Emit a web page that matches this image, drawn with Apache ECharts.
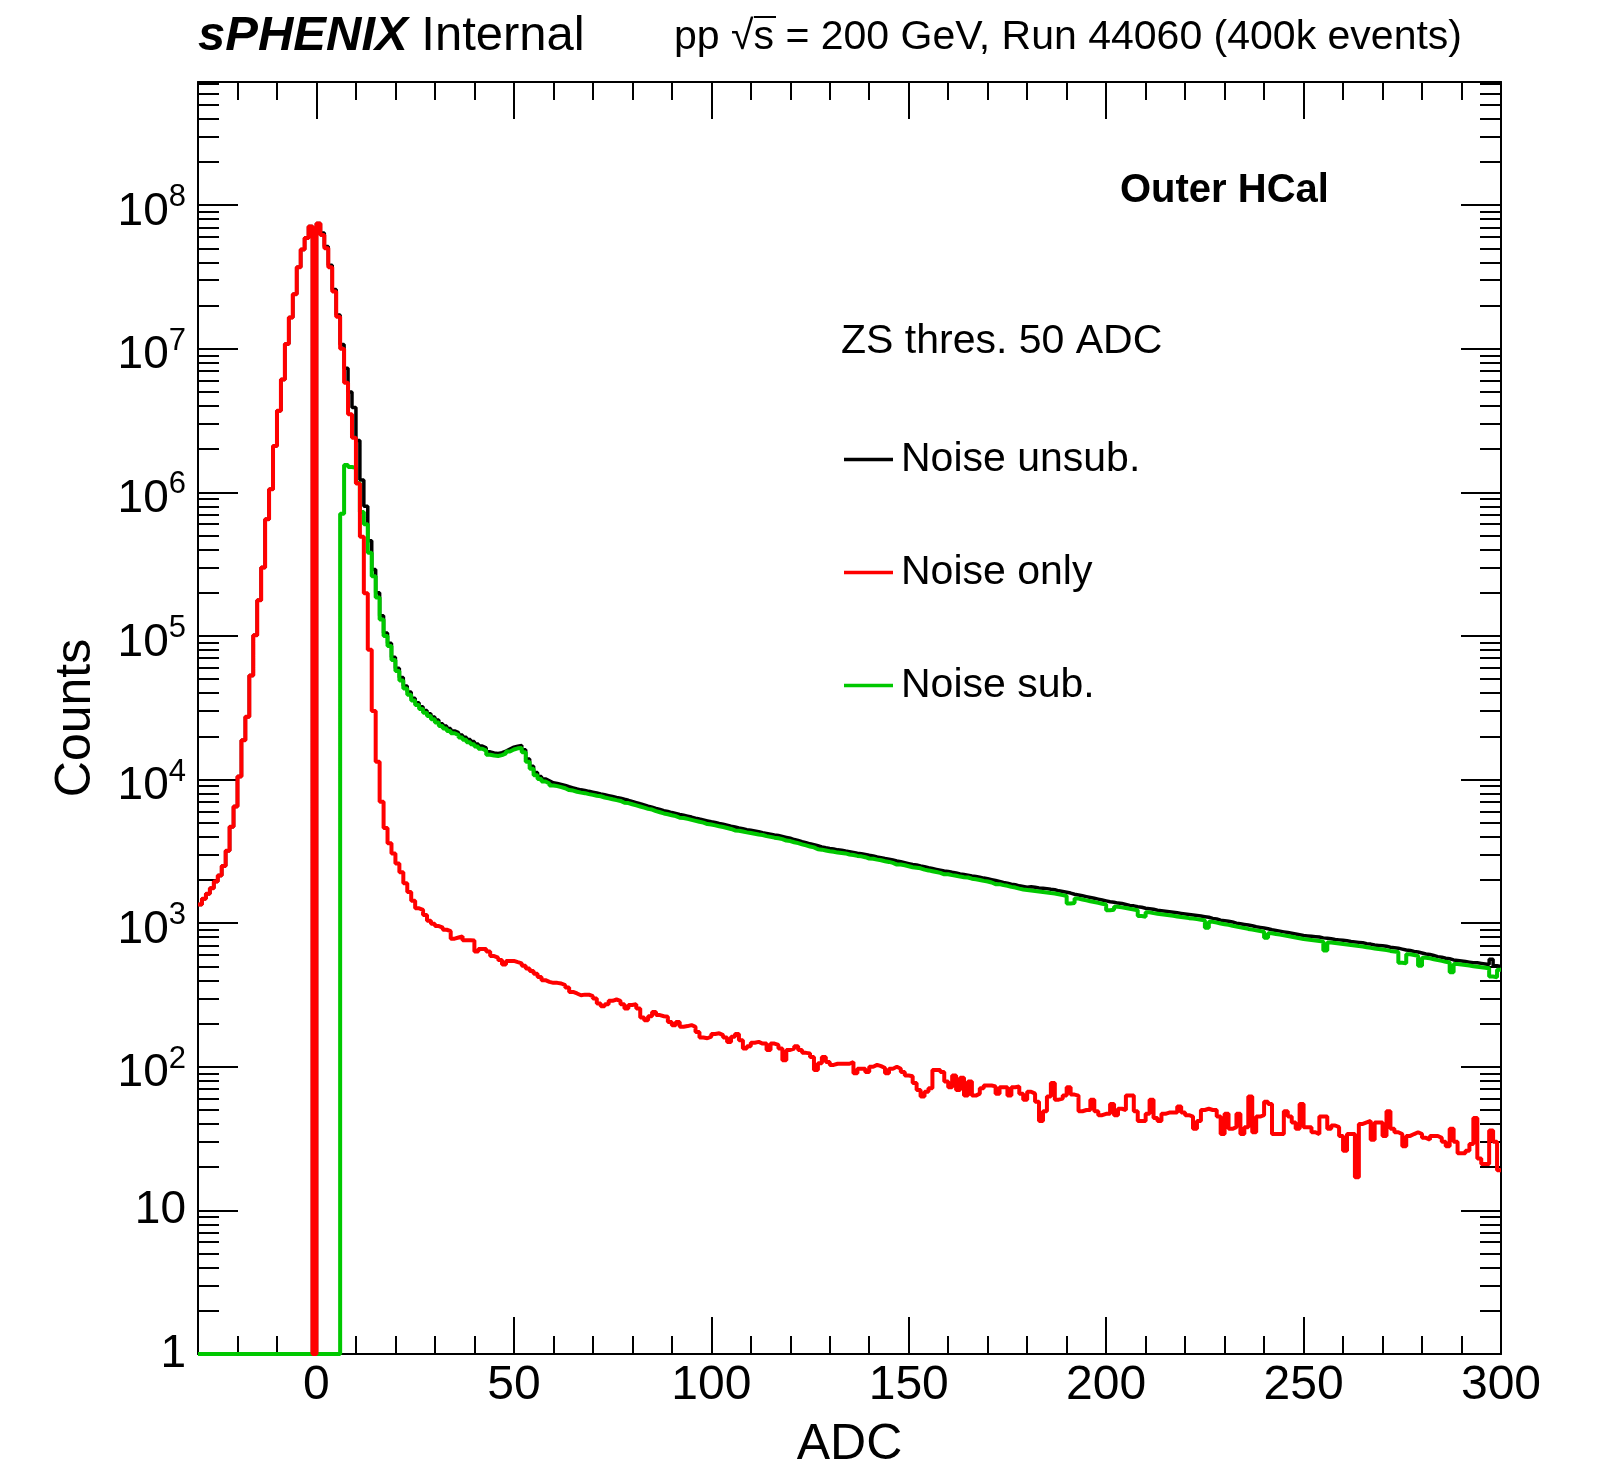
<!DOCTYPE html>
<html>
<head>
<meta charset="utf-8">
<title>Outer HCal ADC</title>
<script src="https://cdn.jsdelivr.net/npm/echarts@6/dist/echarts.min.js"></script>
<style>
  html, body { margin: 0; padding: 0; background: #fff; }
  #chart { width: 1597px; height: 1469px; }
</style>
</head>
<body>
<div id="chart"></div>
<script>
// 1 ADC wide bins, first bin starts at -30 (330 bins up to 300)
const binStart = -30;
const binWidth = 1;

// Noise only (red)
const noiseOnly = [
  1350, 1480, 1600, 1750, 1950, 2150, 2500, 3200, 4700, 6500,
  10500, 18800, 27400, 53000, 101000, 177000, 300000, 650000, 1050000, 2100000,
  3700000, 6100000, 10800000, 16500000, 24000000, 37000000, 49000000, 59000000, 71000000, 0,
  74500000, 62000000, 50000000, 37000000, 25000000, 16700000, 10000000, 5800000, 3500000, 2400000,
  1150000, 490000, 198000, 80000, 30000, 13300, 7000, 4600, 3600, 3050,
  2600, 2260, 1900, 1650, 1430, 1270, 1240, 1140, 1040, 990,
  955, 930, 900, 880, 780, 795, 810, 760, 760, 758,
  635, 660, 660, 635, 590, 575, 555, 515, 546, 546,
  535, 525, 505, 484, 465, 445, 422, 401, 390, 384,
  384, 380, 370, 357, 332, 324, 315, 318, 318, 310,
  299, 276, 264, 273, 288, 294, 288, 273, 255, 269,
  273, 255, 220, 211, 225, 241, 229, 225, 223, 205,
  195, 205, 190, 192, 195, 190, 175, 160, 158, 162,
  169, 171, 166, 160, 149, 162, 169, 153, 134, 139,
  147, 149, 145, 145, 131, 145, 142, 134, 111, 131,
  134, 139, 131, 125, 124, 117, 95, 106, 117, 108,
  103, 105, 105, 105, 105, 108, 90, 97, 97, 92,
  100, 103, 101, 98, 90, 97, 100, 97, 92, 87,
  86, 77, 69, 62, 67, 71, 95, 95, 92, 79,
  72, 87, 69, 84, 63, 79, 63, 65, 71, 74,
  74, 73, 65, 72, 72, 63, 72, 73, 65, 59,
  67, 65, 57, 42, 49, 62, 77, 59, 60, 63,
  72, 64, 63, 49, 50, 50, 59, 49, 46, 47,
  47, 55, 46, 51, 50, 63, 63, 49, 42, 42,
  47, 59, 44, 42, 47, 48, 48, 48, 53, 48,
  46, 45, 37, 42, 50, 51, 50, 50, 45, 34,
  47, 37, 38, 47, 34, 38, 62, 35, 45, 46,
  57, 55, 34, 34, 34, 49, 45, 41, 37, 55,
  38, 38, 35, 34, 45, 45, 37, 39, 38, 33,
  26, 34, 34, 17, 40, 41, 42, 31, 41, 41,
  33, 49, 37, 35, 34, 28, 33, 34, 35, 34,
  32, 31, 33, 33, 32, 30, 28, 37, 30, 25,
  25, 26, 29, 44, 23, 21, 21, 36, 30, 19
];

// Noise unsubtracted (black)
const noiseUnsub = [
  1350, 1480, 1600, 1750, 1950, 2150, 2500, 3200, 4700, 6500,
  10500, 18800, 27400, 53000, 101000, 177000, 300000, 650000, 1050000, 2100000,
  3700000, 6100000, 10800000, 16500000, 24000000, 37000000, 49000000, 59000000, 71000000, 0,
  74500000, 63900000, 51500000, 38100000, 25800000, 17200000, 10700000, 7300000, 5000000, 3900000,
  2300000, 1220000, 800000, 460000, 290000, 200000, 138000, 105000, 89000, 71000,
  59600, 51300, 44900, 40700, 36900, 34300, 32200, 30300, 28700, 27300,
  26000, 24500, 23600, 22700, 21800, 21200, 20400, 19700, 19000, 18400,
  17700, 17100, 16600, 15600, 15300, 15200, 15400, 15800, 16300, 16800,
  17100, 17300, 16100, 13900, 12400, 11200, 10500, 10100, 9800, 9500,
  9400, 9250, 9090, 8910, 8760, 8590, 8480, 8400, 8280, 8170,
  8060, 7940, 7840, 7730, 7620, 7510, 7420, 7290, 7170, 7030,
  6910, 6780, 6660, 6530, 6420, 6300, 6190, 6070, 5990, 5890,
  5810, 5720, 5640, 5560, 5480, 5390, 5310, 5240, 5160, 5080,
  5020, 4940, 4880, 4810, 4730, 4670, 4600, 4550, 4480, 4430,
  4380, 4330, 4260, 4220, 4170, 4120, 4080, 4020, 3960, 3900,
  3820, 3770, 3700, 3640, 3570, 3520, 3460, 3400, 3350, 3310,
  3280, 3240, 3220, 3180, 3150, 3110, 3070, 3050, 3010, 2970,
  2940, 2890, 2860, 2820, 2790, 2750, 2710, 2680, 2640, 2600,
  2560, 2540, 2500, 2470, 2430, 2400, 2370, 2340, 2310, 2290,
  2260, 2240, 2200, 2180, 2160, 2130, 2110, 2090, 2060, 2040,
  2010, 1980, 1950, 1920, 1900, 1870, 1850, 1820, 1800, 1780,
  1790, 1780, 1760, 1750, 1740, 1720, 1710, 1680, 1660, 1640,
  1620, 1590, 1570, 1550, 1530, 1510, 1490, 1470, 1450, 1430,
  1410, 1400, 1380, 1370, 1350, 1330, 1320, 1300, 1290, 1270,
  1260, 1250, 1230, 1220, 1210, 1200, 1190, 1180, 1170, 1160,
  1150, 1140, 1130, 1120, 1110, 1100, 1080, 1070, 1050, 1040,
  1030, 1020, 1000, 990, 980, 970, 960, 945, 935, 925,
  915, 900, 890, 880, 870, 860, 850, 840, 830, 820,
  815, 810, 805, 800, 790, 785, 780, 770, 765, 760,
  755, 745, 740, 735, 730, 720, 715, 705, 700, 695,
  690, 680, 675, 670, 660, 650, 645, 635, 630, 620,
  610, 605, 595, 585, 580, 570, 565, 555, 550, 545,
  540, 535, 530, 530, 525, 520, 515, 560, 505, 500
];

// Noise subtracted (green)
const noiseSub = [
  0, 0, 0, 0, 0, 0, 0, 0, 0, 0,
  0, 0, 0, 0, 0, 0, 0, 0, 0, 0,
  0, 0, 0, 0, 0, 0, 0, 0, 0, 0,
  0, 0, 0, 0, 0, 0, 710000, 1550000, 1500000, 1480000,
  1160000, 730000, 600000, 380000, 260000, 185000, 130000, 100000, 85000, 68000,
  57000, 49000, 43000, 39000, 35500, 33000, 31000, 29200, 27700, 26300,
  25000, 23600, 22700, 21800, 21000, 20400, 19600, 18900, 18200, 17600,
  17000, 16400, 15900, 14900, 14700, 14600, 14800, 15200, 15700, 16200,
  16500, 16600, 15500, 13300, 11900, 10700, 10100, 9700, 9400, 9100,
  9000, 8850, 8700, 8450, 8380, 8220, 8110, 8040, 7920, 7820,
  7710, 7650, 7500, 7400, 7290, 7190, 7100, 6900, 6860, 6730,
  6610, 6490, 6370, 6250, 6180, 6030, 5920, 5810, 5730, 5640,
  5560, 5420, 5400, 5320, 5240, 5160, 5080, 5010, 4900, 4860,
  4800, 4730, 4670, 4600, 4530, 4420, 4400, 4350, 4290, 4240,
  4190, 4140, 4110, 4040, 3990, 3940, 3900, 3850, 3760, 3730,
  3660, 3610, 3540, 3480, 3420, 3370, 3270, 3250, 3210, 3170,
  3140, 3100, 3080, 3060, 3010, 2980, 2940, 2920, 2880, 2820,
  2810, 2770, 2740, 2700, 2670, 2630, 2560, 2560, 2530, 2490,
  2450, 2430, 2410, 2360, 2330, 2300, 2270, 2240, 2190, 2190,
  2160, 2140, 2110, 2090, 2080, 2040, 2020, 2000, 1970, 1950,
  1920, 1870, 1870, 1840, 1820, 1790, 1770, 1740, 1718, 1704,
  1690, 1677, 1663, 1650, 1637, 1623, 1611, 1589, 1567, 1545,
  1370, 1380, 1483, 1462, 1442, 1422, 1403, 1384, 1365, 1349,
  1230, 1240, 1303, 1288, 1274, 1259, 1245, 1230, 1120, 1110,
  1189, 1175, 1164, 1153, 1145, 1135, 1125, 1114, 1104, 1094,
  1084, 1076, 1067, 1057, 1047, 930, 1021, 1009, 995, 984,
  973, 959, 948, 935, 925, 912, 902, 891, 881, 871,
  790, 851, 841, 832, 822, 813, 804, 794, 785, 776,
  770, 764, 758, 752, 746, 645, 734, 728, 722, 716,
  710, 705, 700, 693, 687, 679, 673, 667, 661, 655,
  649, 641, 635, 630, 530, 525, 607, 600, 592, 505,
  575, 569, 561, 553, 546, 538, 532, 455, 520, 515,
  512, 507, 502, 498, 494, 490, 485, 425, 420, 473
];

const xMajorTicks = [0, 50, 100, 150, 200, 250, 300];
const yMajorTicks = [1, 10, 100, 1e3, 1e4, 1e5, 1e6, 1e7, 1e8];

const X_MIN = -30, X_MAX = 300;
const Y_MIN = 1, Y_MAX = 7.2e8;
const FONT = "'Liberation Sans', Arial, Helvetica, sans-serif";

// log minor ticks: 2..9 in every decade
const yMinorTicks = [];
yMajorTicks.forEach((d) => {
    for (let m = 2; m <= 9; m++) {
        if (d * m < Y_MAX) yMinorTicks.push(d * m);
    }
});

// histogram outline: one point per lower bin edge + closing edge, drawn as step line
// empty bins go down to the bottom of the frame like ROOT does
function histPoints(values) {
    const pts = values.map((v, i) => [binStart + i * binWidth, v > 0 ? v : Y_MIN]);
    pts.push([binStart + values.length * binWidth, pts[pts.length - 1][1]]);
    return pts;
}

const tickLine = { color: '#000', width: 2 };
const frameLine = { show: true, onZero: false, lineStyle: { color: '#000', width: 2 } };

function xAxisMajor(position, withLabels) {
    return {
        type: 'value',
        position,
        min: X_MIN,
        max: X_MAX,
        axisLine: frameLine,
        splitLine: { show: false },
        axisTick: { show: true, inside: true, length: 37, customValues: xMajorTicks, lineStyle: tickLine },
        axisLabel: withLabels ? {
            customValues: xMajorTicks,
            fontSize: 48,
            fontFamily: FONT,
            color: '#000',
            margin: 8,
        } : { show: false },
        name: withLabels ? 'ADC' : '',
        nameLocation: 'middle',
        nameGap: 66,
        nameTextStyle: { fontSize: 50, fontFamily: FONT, color: '#000' },
    };
}

function xAxisMinor(position) {
    return {
        type: 'value',
        position,
        min: X_MIN,
        max: X_MAX,
        interval: 10,
        axisLine: { show: false, onZero: false },
        splitLine: { show: false },
        axisTick: { show: true, inside: true, length: 18, lineStyle: tickLine },
        axisLabel: { show: false },
    };
}

function yAxisMajor(position, withLabels) {
    return {
        type: 'log',
        logBase: 10,
        position,
        min: Y_MIN,
        max: Y_MAX,
        axisLine: frameLine,
        splitLine: { show: false },
        axisTick: { show: true, inside: true, length: 40, customValues: yMajorTicks, lineStyle: tickLine },
        axisLabel: withLabels ? {
            customValues: yMajorTicks,
            fontSize: 46,
            fontFamily: FONT,
            color: '#000',
            margin: 12,
            formatter: (v) => {
                const e = Math.round(Math.log10(v));
                if (e === 0) return '1';
                if (e === 1) return '10';
                return '{b|10}{sup|' + e + '}';
            },
            rich: {
                // base sits a bit below the tick, exponent raised (ROOT style)
                b: { fontSize: 46, lineHeight: 46, padding: [7, 0, 0, 0], verticalAlign: 'top', fontFamily: FONT, color: '#000' },
                sup: { fontSize: 31, lineHeight: 34, verticalAlign: 'top', fontFamily: FONT, color: '#000' },
            },
        } : { show: false },
        name: withLabels ? 'Counts' : '',
        nameLocation: 'middle',
        nameGap: 97,
        nameTextStyle: { fontSize: 50, fontFamily: FONT, color: '#000' },
    };
}

function yAxisMinor(position) {
    return {
        type: 'log',
        logBase: 10,
        position,
        min: Y_MIN,
        max: Y_MAX,
        axisLine: { show: false, onZero: false },
        splitLine: { show: false },
        axisTick: { show: true, inside: true, length: 21, customValues: yMinorTicks, lineStyle: tickLine },
        axisLabel: { show: false },
    };
}

function histSeries(name, values, color, width) {
    return {
        name,
        type: 'line',
        step: 'end',
        data: histPoints(values),
        xAxisIndex: 0,
        yAxisIndex: 0,
        symbol: 'none',
        clip: false,
        lineStyle: { color, width },
        itemStyle: { color },
    };
}

const chart = echarts.init(document.getElementById('chart'));

const option = {
    animation: false,
    backgroundColor: '#fff',
    grid: {
        left: 198,
        top: 82,
        width: 1303,
        height: 1272,
        containLabel: false,
        outerBoundsMode: 'none',
    },
    xAxis: [
        xAxisMajor('bottom', true),
        xAxisMinor('bottom'),
        xAxisMajor('top', false),
        xAxisMinor('top'),
    ],
    yAxis: [
        yAxisMajor('left', true),
        yAxisMinor('left'),
        yAxisMajor('right', false),
        yAxisMinor('right'),
    ],
    legend: {
        data: ['Noise unsub.', 'Noise only', 'Noise sub.'],
        orient: 'vertical',
        left: 839,
        top: 434,
        icon: 'rect',
        itemWidth: 49,
        itemHeight: 3.5,
        itemGap: 72,
        selectedMode: false,
        textStyle: { fontSize: 41, fontFamily: FONT, color: '#000', padding: [0, 0, 0, 3] },
    },
    graphic: [
        {
            type: 'text',
            x: 198,
            y: 36,
            style: {
                text: '{b|sPHENIX} Internal',
                fontSize: 49,
                fontFamily: FONT,
                fill: '#000',
                verticalAlign: 'middle',
                rich: {
                    b: { fontSize: 49, fontFamily: FONT, fontWeight: 'bold', fontStyle: 'italic', fill: '#000' },
                },
            },
        },
        {
            type: 'text',
            x: 674,
            y: 38,
            style: {
                text: 'pp \u221As = 200 GeV, Run 44060 (400k events)',
                fontSize: 41,
                fontFamily: FONT,
                fill: '#000',
                verticalAlign: 'middle',
            },
        },
        {
            // overline of the square root
            type: 'line',
            shape: { x1: 754, y1: 17, x2: 776, y2: 17 },
            style: { stroke: '#000', lineWidth: 2 },
        },
        {
            type: 'text',
            x: 1120,
            y: 191,
            style: {
                text: 'Outer HCal',
                fontSize: 40,
                fontWeight: 'bold',
                fontFamily: FONT,
                fill: '#000',
                verticalAlign: 'middle',
            },
        },
        {
            type: 'text',
            x: 841,
            y: 342,
            style: {
                text: 'ZS thres. 50 ADC',
                fontSize: 41,
                fontFamily: FONT,
                fill: '#000',
                verticalAlign: 'middle',
            },
        },
    ],
    series: [
        histSeries('Noise unsub.', noiseUnsub, '#000000', 3.5),
        histSeries('Noise sub.', noiseSub, '#00c800', 4),
        histSeries('Noise only', noiseOnly, '#ff0000', 4),
    ],
};

chart.setOption(option);
</script>
</body>
</html>
